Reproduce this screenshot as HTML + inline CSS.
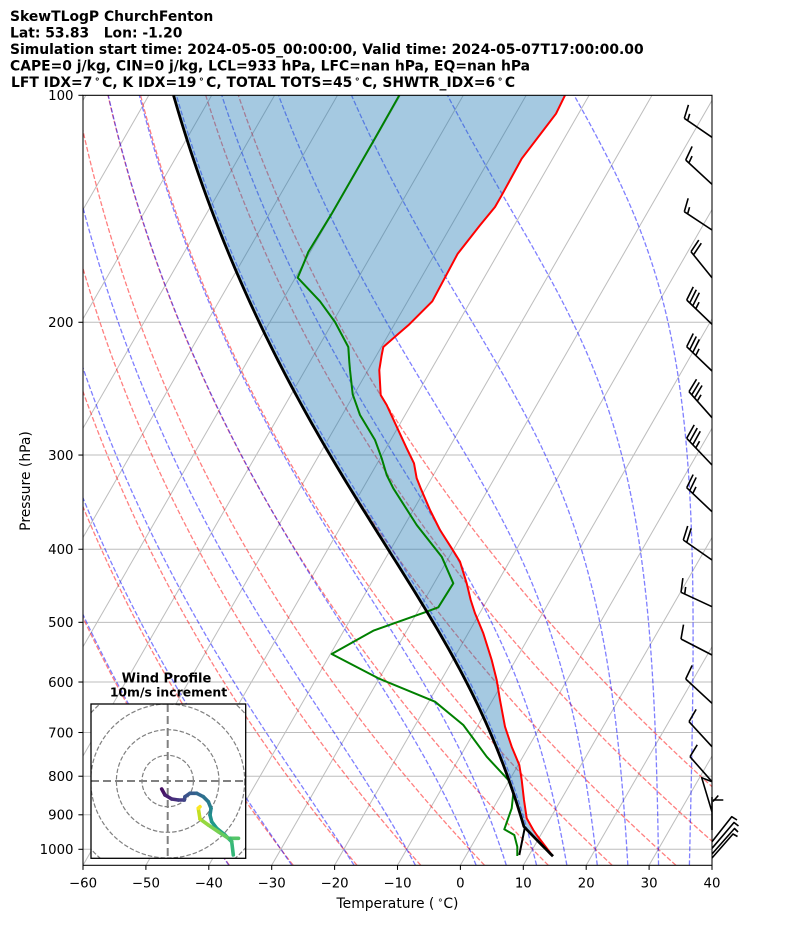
<!DOCTYPE html>
<html><head><meta charset="utf-8">
<style>html,body{margin:0;padding:0;background:#fff;}svg{display:block;}</style>
</head>
<body>
<svg id="s" width="794" height="937" viewBox="0 0 794 937" xmlns="http://www.w3.org/2000/svg" font-family="'DejaVu Sans','Liberation Sans',sans-serif">
<rect width="794" height="937" fill="#fff"/>
<defs>
<clipPath id="cax"><rect x="83" y="95.3" width="629" height="770"/></clipPath>
<clipPath id="chod"><rect x="91" y="704" width="154.7" height="154.3"/></clipPath>
</defs>
<g id="grid" clip-path="url(#cax)" stroke="#bdbdbd" stroke-width="1" fill="none"></g>
<g id="dry" clip-path="url(#cax)" stroke="#ff0000" stroke-opacity="0.5" stroke-width="1.3" stroke-dasharray="4.9 2.1" fill="none"></g>
<g id="moist" clip-path="url(#cax)" stroke="#0000ff" stroke-opacity="0.5" stroke-width="1.3" stroke-dasharray="4.9 2.1" fill="none"></g>
<g id="prof" clip-path="url(#cax)"></g>
<rect x="83" y="95.3" width="629" height="770" fill="none" stroke="#000" stroke-width="1.05"/>
<g id="ticks" stroke="#000" stroke-width="1.05"></g>

<!-- x tick labels -->
<g font-size="13.3" fill="#000" text-anchor="middle">
<text x="83" y="887.6">−60</text>
<text x="145.9" y="887.6">−50</text>
<text x="208.8" y="887.6">−40</text>
<text x="271.7" y="887.6">−30</text>
<text x="334.6" y="887.6">−20</text>
<text x="397.5" y="887.6">−10</text>
<text x="460.4" y="887.6">0</text>
<text x="523.3" y="887.6">10</text>
<text x="586.2" y="887.6">20</text>
<text x="649.1" y="887.6">30</text>
<text x="712" y="887.6">40</text>
</g>
<!-- y tick labels -->
<g font-size="13.3" fill="#000" text-anchor="end">
<text x="73.5" y="100.1">100</text>
<text x="73.5" y="327.1">200</text>
<text x="73.5" y="459.9">300</text>
<text x="73.5" y="554.1">400</text>
<text x="73.5" y="627.1">500</text>
<text x="73.5" y="686.8">600</text>
<text x="73.5" y="737.3">700</text>
<text x="73.5" y="781">800</text>
<text x="73.5" y="819.6">900</text>
<text x="73.5" y="854.1">1000</text>
</g>
<text x="397.5" y="908" font-size="13.9" text-anchor="middle">Temperature (<tspan font-size="9.5" dy="-5">&#160;∘</tspan><tspan dy="5">C)</tspan></text>
<text transform="translate(30 481) rotate(-90)" font-size="13.9" text-anchor="middle">Pressure (hPa)</text>

<!-- titles -->
<g font-size="13.9" font-weight="bold" fill="#000">
<text x="10" y="21">SkewTLogP ChurchFenton</text>
<text x="10" y="37.5">Lat: 53.83&#160;&#160;&#160;Lon: -1.20</text>
<text x="10" y="54">Simulation start time: 2024-05-05_00:00:00, Valid time: 2024-05-07T17:00:00.00</text>
<text x="10" y="70.5">CAPE=0 j/kg, CIN=0 j/kg, LCL=933 hPa, LFC=nan hPa, EQ=nan hPa</text>
<text x="11" y="87">LFT IDX=7<tspan font-size="9.5" dy="-5">&#8201;∘&#8201;</tspan><tspan dy="5">C, K IDX=19</tspan><tspan font-size="9.5" dy="-5">&#8201;∘&#8201;</tspan><tspan dy="5">C, TOTAL TOTS=45</tspan><tspan font-size="9.5" dy="-5">&#8201;∘&#8201;</tspan><tspan dy="5">C, SHWTR_IDX=6</tspan><tspan font-size="9.5" dy="-5">&#8201;∘&#8201;</tspan><tspan dy="5">C</tspan></text>
</g>

<g id="barbs" stroke="#000" stroke-width="1.6" fill="none" stroke-linejoin="round" stroke-linecap="butt"></g>

<!-- hodograph inset -->
<g id="hodo">
<rect x="91" y="704" width="154.7" height="154.3" fill="#fff"/>
<g clip-path="url(#chod)" fill="none" stroke="#808080">
<circle cx="167.7" cy="781" r="25.7" stroke-width="1.2" stroke-dasharray="4.5 2"/>
<circle cx="167.7" cy="781" r="51.3" stroke-width="1.2" stroke-dasharray="4.5 2"/>
<circle cx="167.7" cy="781" r="77" stroke-width="1.2" stroke-dasharray="4.5 2"/>
<circle cx="167.7" cy="781" r="102.6" stroke-width="1.2" stroke-dasharray="4.5 2"/>
<line x1="167.7" y1="704" x2="167.7" y2="858.3" stroke-width="2" stroke-dasharray="8 4"/>
<line x1="91" y1="781" x2="245.7" y2="781" stroke-width="2" stroke-dasharray="8 4"/>
<g id="hodtrace" stroke-width="3.6" stroke-linecap="round"></g>
</g>
<rect x="91" y="704" width="154.7" height="154.3" fill="none" stroke="#000" stroke-width="1.3"/>
<g font-weight="bold" text-anchor="middle" fill="#000">
<text x="166.5" y="682.3" font-size="13">Wind Profile</text>
<text x="168.5" y="696.7" font-size="12.4">10m/s increment</text>
</g>
</g>
</svg>
<script>
(function(){
var NS="http://www.w3.org/2000/svg";
var TOP=95.3,BOT=865.3,L=83,R=712,X0=460.4,SX=6.29,K=0.5756;
function yP(p){return TOP+754*Math.log10(p/100);}
function xT(T,p){return X0+SX*T+K*(BOT-yP(p));}
function el(tag,attrs,parent){var e=document.createElementNS(NS,tag);for(var k in attrs)e.setAttribute(k,attrs[k]);parent.appendChild(e);return e;}
function pts(a){return a.map(function(q){return q[0].toFixed(2)+","+q[1].toFixed(2);}).join(" ");}
var grid=document.getElementById("grid");
[100,200,300,400,500,600,700,800,900,1000].forEach(function(p){var y=yP(p);el("line",{x1:L,y1:y,x2:R,y2:y},grid);});
for(var T=-150;T<=40;T+=10){var xb=X0+SX*T;el("line",{x1:xb,y1:BOT,x2:xb+K*(BOT-TOP),y2:TOP},grid);}
var kappa=0.2857;
var P=[];for(var i=0;i<=160;i++){P.push(1050*Math.pow(100/1050,i/160));}
var dry=document.getElementById("dry");
for(var t0=-40;t0<=50;t0+=10){var a=P.map(function(p){var T=(t0+273.15)*Math.pow(p/1000,kappa)-273.15;return [xT(T,p),yP(p)];});el("polyline",{points:pts(a)},dry);}
var Rd=287.04749,Cp=1004.6662,Lv=2.50084e6,eps=0.6219569;
function f(T,p){var es=6.112*Math.exp(17.67*(T-273.15)/(T-29.65));var rs=eps*es/(p-es);return (Rd*T+Lv*rs)/(Cp+Lv*Lv*rs*eps/(Rd*T*T));}
function moist(T0C,p0,ps){var T=T0C+273.15,p=p0,out=[];ps.forEach(function(pt){var n=12;var lp=Math.log(p);var h=(Math.log(pt)-lp)/n;for(var j=0;j<n;j++){var k1=f(T,Math.exp(lp));var k2=f(T+h/2*k1,Math.exp(lp+h/2));var k3=f(T+h/2*k2,Math.exp(lp+h/2));var k4=f(T+h*k3,Math.exp(lp+h));T+=h/6*(k1+2*k2+2*k3+k4);lp+=h;}p=pt;out.push([pt,T-273.15]);});return out;}
var moistG=document.getElementById("moist");
var up=[],dn=[];for(var i=1;i<=140;i++){up.push(1000*Math.pow(0.1,i/140));}for(var i=1;i<=6;i++){dn.push(1000+50*i/6);}
[-40,-30,-20,-10,0,5,10,15,20,25,30,35,40,45,50].forEach(function(t0){var u=moist(t0,1000,up),d=moist(t0,1000,dn);var all=d.reverse().concat([[1000,t0]]).concat(u);var a=all.map(function(q){return [xT(q[1],q[0]),yP(q[0])];});el("polyline",{points:pts(a)},moistG);});
var ps=1021.6,Ts=13.9,plcl=933,parcel=[];
for(var i=0;i<=10;i++){var p=ps+(plcl-ps)*i/10;parcel.push([p,(Ts+273.15)*Math.pow(p/ps,kappa)-273.15]);}
var Tl=parcel[parcel.length-1][1];var pm=[];for(var i=1;i<=140;i++){pm.push(plcl*Math.pow(100/plcl,i/140));}
parcel=parcel.concat(moist(Tl,plcl,pm));
var parcelPx=parcel.map(function(q){return [xT(q[1],q[0]),yP(q[0])];});
var red=[[565,95.3],[556,113.7],[521.7,158.7],[501.7,195.3],[495,207],[480,225.3],[457.7,253.7],[432.3,301.3],[408.3,325.3],[396.7,335.3],[383.3,347],[381.7,355],[379.3,370],[380.7,395],[386.7,405],[396.7,426.7],[406.7,448.3],[414,463.3],[416.7,478.3],[420.7,488.3],[430,510],[440,530],[451.7,548.3],[460,561.7],[466.7,583.3],[470.7,600],[475,613.3],[483.3,633.3],[491.7,660],[496.7,680],[500,700],[505,726.7],[511.7,746.7],[519.3,765],[521.7,780],[524,800],[526.7,818.3],[533.3,830],[536.7,835],[552.7,856]];
var green=[[399.3,95.3],[373.3,141.3],[331.7,213.7],[308.3,252],[305,260.3],[297.7,277.7],[320,301.3],[335,322],[348.3,347],[349.3,362],[350,370],[352.7,394.3],[360,415],[375,440],[381.7,458.3],[386.7,475],[393.3,488.3],[416.7,525],[441.7,556.7],[453.3,583.3],[438.3,607.3],[426.7,611.7],[373.3,630.7],[331.7,654],[378.3,678.3],[435,701.7],[463.3,725],[486.7,756.7],[508.3,780],[513.3,793.3],[511.7,808.3],[504.3,829.3],[514.3,835],[517.3,846.7],[517.3,856]];
var prof=document.getElementById("prof");
el("polygon",{points:pts(parcelPx.concat(red)),fill:"#1f77b4","fill-opacity":"0.4",stroke:"none"},prof);
el("polyline",{points:pts(red),fill:"none",stroke:"#ff0000","stroke-width":"2","stroke-linejoin":"round"},prof);
el("polyline",{points:pts(green),fill:"none",stroke:"#008000","stroke-width":"2","stroke-linejoin":"round"},prof);
el("polyline",{points:pts(parcelPx),fill:"none",stroke:"#000","stroke-width":"2.8","stroke-linejoin":"round"},prof);
el("line",{x1:519.3,y1:855,x2:525,y2:826.7,stroke:"#000","stroke-width":"2"},prof);
var tk=document.getElementById("ticks");
for(var T=-60;T<=40;T+=10){var x=X0+SX*T;el("line",{x1:x,y1:BOT,x2:x,y2:BOT+4.6},tk);}
[100,200,300,400,500,600,700,800,900,1000].forEach(function(p){var y=yP(p);el("line",{x1:L-4.6,y1:y,x2:L,y2:y},tk);});
var bg=document.getElementById("barbs");
var barbs=[[712,137.3,684.3,118.3,1,1],[712,184.3,685.7,160,1,1],[712,230,684.3,211.7,1,1],[712,277.7,691,251.7,2,0],[712,324.3,686.7,300,3,1],[712,371,686.7,346.7,3,1],[712,417.7,689,391.7,3,1],[712,465,686.7,438.3,3,1],[712,511.7,686.7,487.7,2,1],[712,560,683.3,540,2,0],[712,606.7,681,592.3,1,1],[712,655,681,639,1,0],[712,703.3,685.7,679,1,0],[712,746.7,689,721.7,1,0],[712,781.7,690,756.7,1,0]];
barbs.forEach(function(b){var bx=b[0],by=b[1],tx=b[2],ty=b[3];var dx=tx-bx,dy=ty-by,Ln=Math.sqrt(dx*dx+dy*dy);var d=[dx/Ln,dy/Ln],n=[-d[1],d[0]];var sp=0.12*Ln,H=0.4*Ln,W=0.125*Ln;var path="M"+bx+","+by+"L"+tx+","+ty;var off=0;for(var i=0;i<b[4];i++){var px=tx-d[0]*off,py=ty-d[1]*off;path+="M"+px.toFixed(2)+","+py.toFixed(2)+"L"+(px+n[0]*H+d[0]*W).toFixed(2)+","+(py+n[1]*H+d[1]*W).toFixed(2);off+=sp;}if(b[5]){if(off===0)off=1.5*sp;var px=tx-d[0]*off,py=ty-d[1]*off;path+="M"+px.toFixed(2)+","+py.toFixed(2)+"L"+(px+n[0]*H/2+d[0]*W/2).toFixed(2)+","+(py+n[1]*H/2+d[1]*W/2).toFixed(2);}el("path",{d:path},bg);});
var extra="M712,812L701.7,777.7L711.5,781.5 M712,830L712,797 M713,801.5L718.3,795.5 M713,800L723.3,800 M712,841.7L731.7,816.7L737,820 M712,848.3L734,822.5L738.5,826 M712,854L734.5,828.5L738,832 M712,858L733,834L737.5,836.5";
el("path",{d:extra},bg);
var ht=document.getElementById("hodtrace");
var h1=[[161.7,789,'#440154'],[165,795,'#471164'],[171.7,799,'#481f70'],[178.3,800,'#472d7b'],[184.3,800,'#443983'],[185,796.7,'#404688'],[190,793.3,'#3b528b'],[196.7,793.3,'#365d8d'],[203.3,796.7,'#31688e'],[208.3,801.7,'#2c728e'],[211,808.3,'#287c8e'],[210,815,'#24868e'],[211.7,821.7,'#21918c'],[216.7,828.3,'#1f9a8a'],[225,835,'#20a486'],[231.7,841.7,'#27ad81'],[233.3,855,'#35b779']];
var h2=[[238.5,838.3,'#48c16e'],[228.3,838.3,'#54c568'],[218.3,831.7,'#65cb5e'],[208.3,825,'#7ad151'],[200,819,'#95d840'],[198.3,808.3,'#c2df23'],[200,806.7,'#fde725']];
[h1,h2].forEach(function(h){for(var i=1;i<h.length;i++){el("line",{x1:h[i-1][0],y1:h[i-1][1],x2:h[i][0],y2:h[i][1],stroke:h[i][2]},ht);}});
el("line",{x1:231.7,y1:841.7,x2:230,y2:838.3,stroke:'#3fbc73'},ht);
})();
</script>
</body></html>
